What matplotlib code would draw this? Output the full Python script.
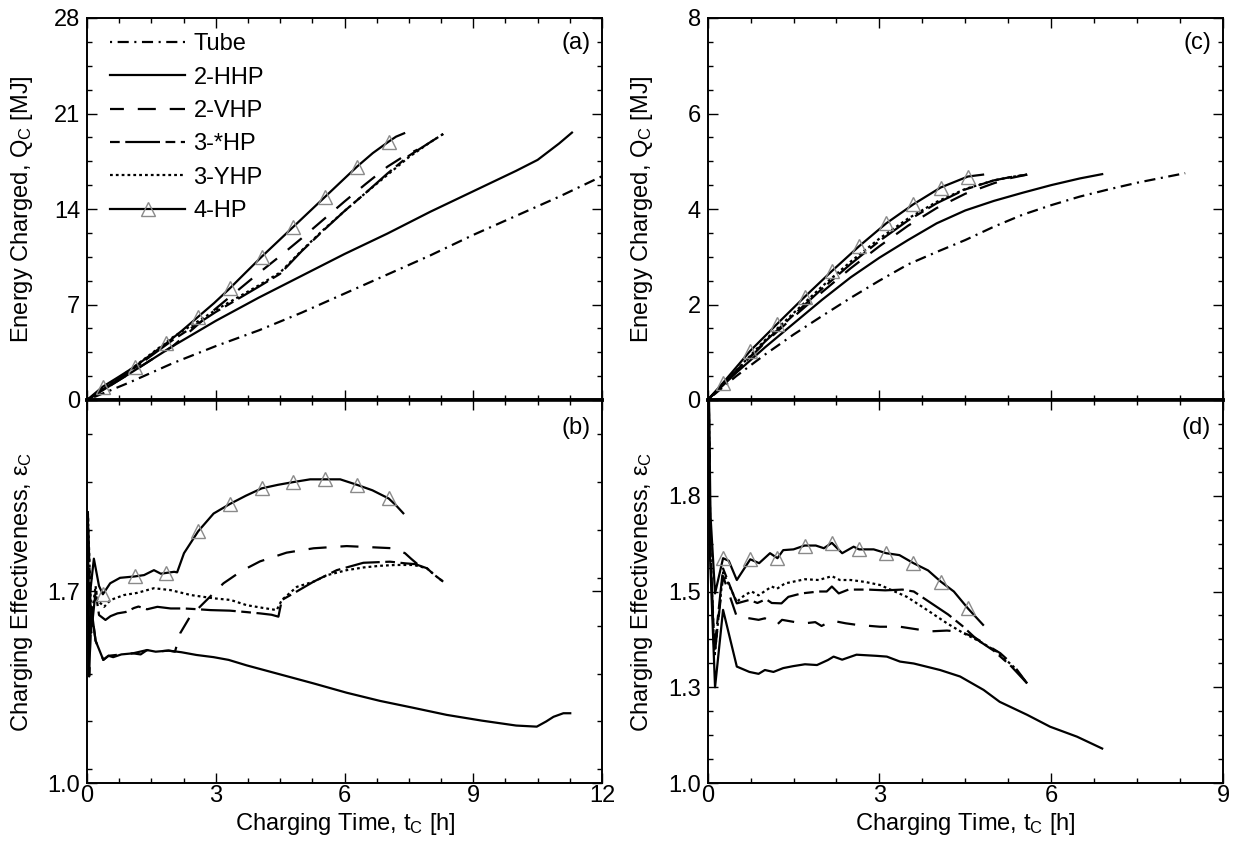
import numpy as np
import matplotlib
matplotlib.use("Agg")
import matplotlib.pyplot as plt
from matplotlib.ticker import MultipleLocator

plt.rcParams['font.family'] = ['Liberation Sans', 'DejaVu Sans']
plt.rcParams['mathtext.default'] = 'regular'
plt.rcParams['lines.scale_dashes'] = False

# ---------------- data: panel (a) energy charged [MJ] vs time [h] ----------------
a_tube_t = [0, 1, 2, 3, 4, 5, 6, 7, 8, 9, 10, 11, 12]
a_tube_q = [0, 1.3, 2.7, 3.95, 5.1, 6.4, 7.8, 9.2, 10.6, 12.1, 13.5, 14.9, 16.4]
a_hhp2_t = [0, 1, 2, 3, 4, 5, 6, 7, 8, 9, 10, 10.5, 11, 11.3]
a_hhp2_q = [0, 1.95, 3.95, 5.8, 7.5, 9.1, 10.7, 12.2, 13.8, 15.3, 16.8, 17.6, 18.8, 19.6]
a_vhp2_t = [0, 1, 2, 2.5, 3, 3.5, 4, 4.5, 5, 5.5, 6, 6.5, 7, 7.4, 7.7]
a_vhp2_q = [0, 1.95, 3.95, 5.3, 6.7, 8.0, 9.3, 10.55, 11.85, 13.2, 14.55, 15.85, 17.1, 17.9, 18.35]
a_shp3_t = [0, 1, 2, 3, 4, 4.5, 5, 5.5, 6, 6.5, 7, 7.5, 8, 8.3]
a_shp3_q = [0, 2.1, 4.4, 6.45, 8.3, 9.25, 10.9, 12.4, 13.85, 15.2, 16.6, 17.9, 18.9, 19.5]
a_yhp3_t = [0, 1, 2, 3, 4, 4.5, 5, 5.5, 6, 6.5, 7, 7.5, 8, 8.3]
a_yhp3_q = [0, 2.2, 4.6, 6.6, 8.4, 9.35, 10.95, 12.45, 13.85, 15.2, 16.5, 17.8, 18.9, 19.5]
a_hp4_t = [0, 0.37, 0.74, 1.11, 1.48, 1.85, 2.22, 2.59, 2.96, 3.33, 3.70, 4.07, 4.44,
           4.81, 5.18, 5.55, 5.92, 6.29, 6.66, 7.03, 7.20, 7.39]
a_hp4_q = [0, 0.98, 1.7, 2.44, 3.3, 4.16, 5.1, 6.1, 7.1, 8.19, 9.35, 10.5, 11.6,
           12.7, 13.8, 14.9, 16.0, 17.1, 18.1, 18.94, 19.3, 19.55]
a_hp4_marks = [0.37, 1.11, 1.85, 2.59, 3.33, 4.07, 4.81, 5.55, 6.29, 7.03]

# ---------------- data: panel (b) charging effectiveness ----------------
b_hhp2_t = [0.02, 0.05, 0.1, 0.2, 0.38, 0.5, 0.61, 0.8, 1.07, 1.25, 1.4, 1.6, 1.9, 2.2, 2.55,
            2.95, 3.3, 3.72, 4.5, 5.28, 6.05, 6.83, 7.6, 8.38, 9.2, 10.0, 10.48, 10.7, 10.87,
            11.1, 11.26]
b_hhp2_e = [1.99, 1.39, 1.64, 1.52, 1.45, 1.465, 1.46, 1.47, 1.474, 1.47, 1.486, 1.48, 1.484,
            1.478, 1.468, 1.46, 1.45, 1.43, 1.397, 1.364, 1.33, 1.30, 1.275, 1.249, 1.228,
            1.21, 1.206, 1.225, 1.242, 1.255, 1.255]
b_vhp2_t = [0.02, 0.05, 0.1, 0.2, 0.38, 0.5, 0.8, 1.07, 1.4, 1.6, 1.9, 2.05, 2.17, 2.4, 2.79,
            3.18, 3.6, 4.03, 4.65, 5.28, 6.05, 6.6, 7.14, 7.41, 7.55, 7.7]
b_vhp2_e = [1.99, 1.39, 1.64, 1.52, 1.45, 1.465, 1.47, 1.474, 1.486, 1.48, 1.484, 1.48, 1.547,
            1.608, 1.669, 1.73, 1.775, 1.81, 1.842, 1.858, 1.866, 1.862, 1.858, 1.84, 1.82, 1.80]
b_shp3_t = [0.02, 0.1, 0.2, 0.28, 0.43, 0.55, 0.71, 0.9, 1.1, 1.2, 1.4, 1.64, 1.95, 2.26, 2.6,
            2.88, 3.33, 3.7, 4.03, 4.3, 4.46, 4.54, 4.81, 5.28, 5.82, 6.44, 7.06, 7.41, 7.65,
            7.92, 8.1, 8.3]
b_shp3_e = [1.99, 1.55, 1.70, 1.614, 1.596, 1.61, 1.62, 1.625, 1.64, 1.645, 1.635, 1.644,
            1.638, 1.638, 1.635, 1.632, 1.63, 1.625, 1.62, 1.615, 1.608, 1.669, 1.693, 1.736,
            1.778, 1.805, 1.809, 1.803, 1.80, 1.785, 1.76, 1.736]
b_yhp3_t = [0.02, 0.1, 0.2, 0.24, 0.4, 0.55, 0.86, 1.17, 1.56, 1.95, 2.42, 2.96, 3.35, 3.72,
            4.1, 4.42, 4.54, 4.89, 5.28, 5.6, 6.05, 6.45, 6.83, 7.2, 7.61, 7.92, 8.1, 8.3]
b_yhp3_e = [1.99, 1.60, 1.72, 1.669, 1.644, 1.669, 1.687, 1.695, 1.712, 1.705, 1.687, 1.675,
            1.669, 1.65, 1.64, 1.632, 1.669, 1.717, 1.736, 1.76, 1.778, 1.788, 1.794, 1.797,
            1.797, 1.785, 1.76, 1.736]
b_hp4_t = [0.02, 0.16, 0.28, 0.37, 0.54, 0.77, 1.11, 1.33, 1.56, 1.72, 1.85, 2.03, 2.1, 2.26,
           2.59, 2.95, 3.33, 3.7, 4.07, 4.45, 4.81, 5.2, 5.55, 5.9, 6.29, 6.65, 7.03, 7.2, 7.37]
b_hp4_e = [1.62, 1.82, 1.72, 1.69, 1.73, 1.75, 1.755, 1.76, 1.778, 1.765, 1.768, 1.772, 1.77,
           1.84, 1.92, 1.985, 2.02, 2.05, 2.077, 2.09, 2.10, 2.11, 2.11, 2.11, 2.09, 2.07,
           2.04, 2.015, 1.986]
b_hp4_marks = [0.37, 1.11, 1.85, 2.59, 3.33, 4.07, 4.81, 5.55, 6.29, 7.03]

# ---------------- data: panel (c) energy charged ----------------
c_tube_t = [0, 0.5, 1, 1.5, 2, 2.5, 3, 3.5, 4, 4.5, 5, 5.5, 6, 6.5, 7, 7.5, 8, 8.34]
c_tube_q = [0, 0.5, 0.95, 1.37, 1.76, 2.14, 2.5, 2.84, 3.1, 3.35, 3.63, 3.88, 4.08, 4.26,
            4.41, 4.55, 4.67, 4.75]
c_hhp2_t = [0, 0.5, 1.0, 1.5, 2.0, 2.5, 3.0, 3.5, 4.0, 4.5, 5.0, 5.5, 6.0, 6.5, 6.89]
c_hhp2_q = [0, 0.57, 1.1, 1.6, 2.1, 2.57, 2.98, 3.35, 3.7, 3.97, 4.17, 4.34, 4.50, 4.64, 4.73]
c_vhp2_t = [0, 0.5, 1, 1.5, 2, 2.5, 3, 3.5, 4, 4.5, 5, 5.3, 5.58]
c_vhp2_q = [0, 0.6, 1.2, 1.74, 2.26, 2.76, 3.22, 3.65, 4.02, 4.32, 4.54, 4.65, 4.72]
c_shp3_t = [0, 0.5, 1, 1.5, 2, 2.5, 3, 3.5, 4, 4.5, 5, 5.3, 5.58]
c_shp3_q = [0, 0.61, 1.22, 1.78, 2.33, 2.85, 3.33, 3.76, 4.12, 4.41, 4.6, 4.67, 4.72]
c_yhp3_t = [0, 0.5, 1, 1.5, 2, 2.5, 3, 3.5, 4, 4.5, 5, 5.3, 5.58]
c_yhp3_q = [0, 0.62, 1.25, 1.82, 2.38, 2.9, 3.38, 3.8, 4.15, 4.42, 4.6, 4.67, 4.72]
c_hp4_t = [0, 0.27, 0.745, 1.22, 1.695, 2.17, 2.645, 3.12, 3.595, 4.07, 4.545, 4.81]
c_hp4_q = [0, 0.36, 1.03, 1.6, 2.16, 2.7, 3.22, 3.7, 4.1, 4.45, 4.68, 4.72]
c_hp4_marks = [0.27, 0.745, 1.22, 1.695, 2.17, 2.645, 3.12, 3.595, 4.07, 4.545]

# ---------------- data: panel (d) charging effectiveness ----------------
d_hhp2_t = [0.0, 0.04, 0.13, 0.27, 0.51, 0.73, 0.89, 1.0, 1.15, 1.32, 1.49, 1.7, 1.91, 2.1,
            2.2, 2.35, 2.6, 2.95, 3.13, 3.36, 3.6, 4.06, 4.41, 4.82, 5.1, 5.58, 5.98, 6.45, 6.89]
d_hhp2_e = [2.3, 1.6, 1.25, 1.452, 1.304, 1.29, 1.285, 1.295, 1.29, 1.30, 1.305, 1.31, 1.308,
            1.321, 1.33, 1.322, 1.335, 1.332, 1.33, 1.317, 1.312, 1.295, 1.278, 1.243, 1.212,
            1.178, 1.147, 1.121, 1.09]
d_vhp2_t = [0.0, 0.05, 0.12, 0.27, 0.51, 0.73, 0.89, 1.0, 1.21, 1.3, 1.53, 1.7, 1.88, 1.99,
            2.17, 2.41, 2.6, 3.01, 3.36, 3.71, 3.9, 4.18, 4.41, 4.64, 4.88, 5.11, 5.34, 5.58]
d_vhp2_e = [2.3, 1.6, 1.33, 1.54, 1.434, 1.43, 1.426, 1.43, 1.413, 1.426, 1.42, 1.417, 1.42,
            1.41, 1.424, 1.417, 1.413, 1.408, 1.408, 1.40, 1.396, 1.398, 1.395, 1.382, 1.36,
            1.339, 1.308, 1.26]
d_shp3_t = [0.0, 0.05, 0.12, 0.27, 0.51, 0.73, 0.87, 1.02, 1.12, 1.29, 1.41, 1.64, 1.94,
            2.08, 2.17, 2.29, 2.46, 2.8, 3.1, 3.4, 3.6, 3.9, 4.2, 4.45, 4.7, 5.0, 5.3, 5.58]
d_shp3_e = [2.3, 1.6, 1.35, 1.56, 1.469, 1.478, 1.47, 1.48, 1.47, 1.469, 1.486, 1.495, 1.50,
            1.50, 1.513, 1.495, 1.505, 1.505, 1.503, 1.505, 1.50, 1.47, 1.44, 1.41, 1.375,
            1.345, 1.305, 1.26]
d_yhp3_t = [0.0, 0.05, 0.12, 0.27, 0.51, 0.65, 0.77, 0.89, 1.12, 1.21, 1.35, 1.7, 1.94, 2.17,
            2.31, 2.5, 2.75, 3.01, 3.48, 3.83, 4.18, 4.47, 4.76, 5.05, 5.34, 5.58]
d_yhp3_e = [2.3, 1.6, 1.33, 1.55, 1.473, 1.491, 1.50, 1.49, 1.513, 1.507, 1.521, 1.532, 1.53,
            1.54, 1.53, 1.53, 1.525, 1.517, 1.486, 1.452, 1.417, 1.391, 1.369, 1.343, 1.304,
            1.26]
d_hp4_t = [0.0, 0.05, 0.13, 0.27, 0.37, 0.51, 0.745, 0.9, 1.09, 1.22, 1.32, 1.5, 1.695, 1.89,
           2.03, 2.17, 2.35, 2.55, 2.645, 2.9, 3.12, 3.35, 3.595, 3.85, 4.07, 4.3, 4.545, 4.81]
d_hp4_e = [2.3, 1.7, 1.495, 1.587, 1.58, 1.53, 1.584, 1.574, 1.60, 1.587, 1.608, 1.61, 1.62,
           1.62, 1.613, 1.627, 1.60, 1.617, 1.61, 1.61, 1.60, 1.595, 1.574, 1.555, 1.526,
           1.50, 1.456, 1.413]
d_hp4_marks = [0.27, 0.745, 1.22, 1.695, 2.17, 2.645, 3.12, 3.595, 4.07, 4.545]

# tick labels
ab_xticks = [0, 3, 6, 9, 12]
cd_xticks = [0, 3, 6, 9]
a_yticks = [0, 7, 14, 21, 28]
c_yticks = [0, 2, 4, 6, 8]
b_yticks = [1.0, 1.7, 2.4]
b_ylabels = ['1.0', '1.7', '']
d_yticks = [1.0, 1.25, 1.5, 1.75, 2.0]
d_ylabels = ['1.0', '1.3', '1.5', '1.8', '']

# ---------------- styles ----------------
LW = 1.6
styles = {
    'Tube': dict(ls=(0, (1.5, 4, 8, 4))),
    '2-HHP': dict(ls='-'),
    '2-VHP': dict(ls=(3, (13, 10))),
    '3-*HP': dict(ls=(0, (7, 4, 25, 4))),
    '3-YHP': dict(ls=(0, (2, 2.2))),
    '4-HP': dict(ls='-', marker='^', ms=10, mfc='none', mec='#8a8a8a', mew=1.0),
}


def mark_idx(t, marks):
    t = np.asarray(t)
    return [int(np.argmin(np.abs(t - m))) for m in marks]


def draw(ax, series, marks):
    for name, (t, v) in series.items():
        kw = dict(styles[name])
        if name == '4-HP':
            kw['markevery'] = mark_idx(t, marks)
        ax.plot(t, v, color='black', lw=LW, label=name, **kw)


W, H = 1236, 851
fig = plt.figure(figsize=(W / 100, H / 100), dpi=100)


def mk(x0, x1, y0, y1):
    return fig.add_axes([x0 / W, 1 - y1 / H, (x1 - x0) / W, (y1 - y0) / H])


axA = mk(87, 602, 18, 400)
axB = mk(87, 602, 400, 783)
axC = mk(707.6, 1223, 18, 400)
axD = mk(707.6, 1223, 400, 783)

draw(axA, {'Tube': (a_tube_t, a_tube_q), '2-HHP': (a_hhp2_t, a_hhp2_q),
           '2-VHP': (a_vhp2_t, a_vhp2_q), '3-*HP': (a_shp3_t, a_shp3_q),
           '3-YHP': (a_yhp3_t, a_yhp3_q), '4-HP': (a_hp4_t, a_hp4_q)}, a_hp4_marks)
draw(axB, {'2-HHP': (b_hhp2_t, b_hhp2_e), '2-VHP': (b_vhp2_t, b_vhp2_e),
           '3-*HP': (b_shp3_t, b_shp3_e), '3-YHP': (b_yhp3_t, b_yhp3_e),
           '4-HP': (b_hp4_t, b_hp4_e)}, b_hp4_marks)
draw(axC, {'Tube': (c_tube_t, c_tube_q), '2-HHP': (c_hhp2_t, c_hhp2_q),
           '2-VHP': (c_vhp2_t, c_vhp2_q), '3-*HP': (c_shp3_t, c_shp3_q),
           '3-YHP': (c_yhp3_t, c_yhp3_q), '4-HP': (c_hp4_t, c_hp4_q)}, c_hp4_marks)
draw(axD, {'2-HHP': (d_hhp2_t, d_hhp2_e), '2-VHP': (d_vhp2_t, d_vhp2_e),
           '3-*HP': (d_shp3_t, d_shp3_e), '3-YHP': (d_yhp3_t, d_yhp3_e),
           '4-HP': (d_hp4_t, d_hp4_e)}, d_hp4_marks)

FS = 17
for ax in (axA, axB, axC, axD):
    ax.tick_params(which='both', direction='in', top=True, right=True, labelsize=FS, width=1.0)
    ax.tick_params(which='major', length=7, pad=5)
    ax.tick_params(which='minor', length=3.5)
    ax.tick_params(axis='x', which='major', pad=1.5)
    for s in ax.spines.values():
        s.set_linewidth(1.4)

for ax, xt in ((axA, ab_xticks), (axB, ab_xticks), (axC, cd_xticks), (axD, cd_xticks)):
    ax.set_xticks(xt, labels=[str(v) for v in xt])
    ax.xaxis.set_minor_locator(MultipleLocator(0.75))
    ax.set_xlim(xt[0], xt[-1])

axA.set_yticks(a_yticks, labels=[str(v) for v in a_yticks]); axA.set_ylim(0, 28)
axA.yaxis.set_minor_locator(MultipleLocator(1.75))
axC.set_yticks(c_yticks, labels=[str(v) for v in c_yticks]); axC.set_ylim(0, 8)
axC.yaxis.set_minor_locator(MultipleLocator(0.5))
axB.set_yticks(b_yticks, labels=b_ylabels); axB.set_ylim(1.0, 2.4)
axB.yaxis.set_minor_locator(MultipleLocator(0.175))
axD.set_yticks(d_yticks, labels=d_ylabels); axD.set_ylim(1.0, 2.0)
axD.yaxis.set_minor_locator(MultipleLocator(0.0625))

for ax in (axA, axC):
    ax.tick_params(labelbottom=False)
    ax.spines['bottom'].set_linewidth(2.6)
for ax in (axB, axD):
    ax.spines['top'].set_linewidth(2.6)

for ax, lab, yy in ((axA, '(a)', 0.935), (axB, '(b)', 0.927), (axC, '(c)', 0.935), (axD, '(d)', 0.927)):
    ax.text(0.977, yy, lab, transform=ax.transAxes, ha='right', va='center', fontsize=FS)

axA.legend(loc='upper left', bbox_to_anchor=(0.035, 0.972), frameon=False, fontsize=FS,
           handlelength=3.2, handletextpad=0.35, labelspacing=0.48, borderaxespad=0,
           borderpad=0.2, markerscale=1.0)

fig.text(22 / W, 1 - 209 / H, 'Energy Charged, Q$_{C}$ [MJ]', rotation=90, ha='center', va='center', fontsize=FS)
fig.text(22 / W, 1 - 592 / H, 'Charging Effectiveness, ε$_{C}$', rotation=90, ha='center', va='center', fontsize=FS)
fig.text(642 / W, 1 - 209 / H, 'Energy Charged, Q$_{C}$ [MJ]', rotation=90, ha='center', va='center', fontsize=FS)
fig.text(642 / W, 1 - 592 / H, 'Charging Effectiveness, ε$_{C}$', rotation=90, ha='center', va='center', fontsize=FS)
fig.text(345 / W, 1 - 830 / H, 'Charging Time, t$_{C}$ [h]', ha='center', va='baseline', fontsize=FS)
fig.text(965 / W, 1 - 830 / H, 'Charging Time, t$_{C}$ [h]', ha='center', va='baseline', fontsize=FS)

fig.savefig('out.png', dpi=100)
